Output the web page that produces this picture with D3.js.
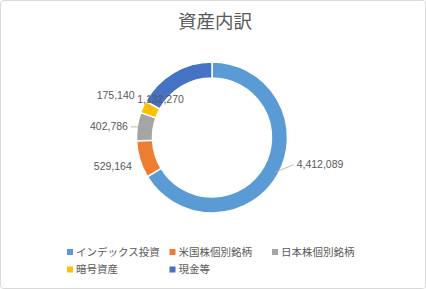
<!DOCTYPE html>
<html>
<head>
<meta charset="utf-8">
<script src="https://cdn.jsdelivr.net/npm/d3@7"></script>
<style>
  html, body { margin: 0; padding: 0; background: #fff; }
  svg { display: block; }
</style>
</head>
<body>
<div id="chart"></div>
<script>
const title = '資産内訳'
const categories = ['インデックス投資', '米国株個別銘柄', '日本株個別銘柄', '暗号資産', '現金等']
const values = [4412089, 529164, 402786, 175140, 1132270]
const colors = ['#5b9bd5', '#ed7d31', '#a5a5a5', '#ffc000', '#4472c4']

let width = 426
let height = 289
let cx = 212
let cy = 137.5
let outerR = 75.5
let innerR = 59.5
let textColor = '#595959'
let jpFont = '"Noto Sans CJK JP", "Noto Sans", sans-serif'
let numFont = '"Liberation Sans", Arial, sans-serif'

let svg = d3.select('#chart').append('svg')
  .attr('width', width)
  .attr('height', height)

svg.append('rect')
  .attr('x', 0.5)
  .attr('y', 0.5)
  .attr('width', width - 1)
  .attr('height', height - 1)
  .attr('rx', 3)
  .attr('fill', '#fff')
  .attr('stroke', '#d9d9d9')

svg.append('text')
  .attr('x', width / 2 + 2)
  .attr('y', 28)
  .attr('text-anchor', 'middle')
  .attr('font-family', jpFont)
  .attr('font-size', 18.5)
  .attr('fill', textColor)
  .text(title)

let data = categories.map((c, i) => ({ name: c, value: values[i], color: colors[i] }))

let pie = d3.pie()
  .value((d) => d.value)
  .sort(null)

let arcs = pie(data)

let arc = d3.arc()
  .innerRadius(innerR)
  .outerRadius(outerR)

let g = svg.append('g')
  .attr('transform', `translate(${cx},${cy})`)

g.selectAll('.slice')
  .data(arcs)
  .enter().append('path')
  .attr('class', 'slice')
  .attr('d', arc)
  .attr('fill', (d) => d.data.color)
  .attr('stroke', '#fff')
  .attr('stroke-width', 1.5)

// label layout: start at mid-angle just outside the ring, then nudge like Excel's best fit
let labelR = 88
let nudge = {
  'インデックス投資': [8, -16, true],
  '米国株個別銘柄': [4, 3, false],
  '日本株個別銘柄': [3, 2, true],
  '暗号資産': [3, -6, false],
  '現金等': [-30, 38, false, 'start']
}
let fmt = d3.format(',')

let labels = arcs.map((d) => {
  let a = (d.startAngle + d.endAngle) / 2
  let x = Math.sin(a) * labelR
  let y = -Math.cos(a) * labelR
  let n = nudge[d.data.name] || [0, 0, false]
  let anchor = n[3] || (x >= 0 ? 'start' : 'end')
  let edge = [Math.sin(a) * (outerR - 4), -Math.cos(a) * (outerR - 4)]
  return { d, x: x + n[0], y: y + n[1], anchor, leader: n[2], edge }
})

g.selectAll('.leader')
  .data(labels.filter((l) => l.leader))
  .enter().append('line')
  .attr('class', 'leader')
  .attr('x1', (l) => l.edge[0])
  .attr('y1', (l) => l.edge[1])
  .attr('x2', (l) => l.anchor === 'start' ? l.x - 3 : l.x + 3)
  .attr('y2', (l) => l.y)
  .attr('stroke', '#a6a6a6')
  .attr('stroke-width', 0.75)

// small stub from the cash label down to the ring, as Excel drew it
let cash = labels[labels.length - 1]
g.append('line')
  .attr('x1', cash.x + 12)
  .attr('y1', cash.y + 5)
  .attr('x2', cash.x + 14)
  .attr('y2', cash.y + 11)
  .attr('stroke', '#a6a6a6')
  .attr('stroke-width', 0.75)

g.selectAll('.label')
  .data(labels)
  .enter().append('text')
  .attr('class', 'label')
  .attr('x', (l) => l.x)
  .attr('y', (l) => l.y)
  .attr('dy', '0.35em')
  .attr('text-anchor', (l) => l.anchor)
  .attr('font-family', numFont)
  .attr('font-size', 10.5)
  .attr('fill', textColor)
  .text((l) => fmt(l.d.data.value))

// legend: fixed columns, three per row
let colW = 102.5
let rowH = 17.5
let legend = svg.append('g')
  .attr('transform', 'translate(67,252)')

let item = legend.selectAll('.item')
  .data(data)
  .enter().append('g')
  .attr('class', 'item')
  .attr('transform', (d, i) => `translate(${(i % 3) * colW},${Math.floor(i / 3) * rowH})`)

item.append('rect')
  .attr('x', 0)
  .attr('y', -3)
  .attr('width', 6)
  .attr('height', 6)
  .attr('fill', (d) => d.color)

item.append('text')
  .attr('x', 9)
  .attr('y', 0)
  .attr('dy', '0.36em')
  .attr('font-family', jpFont)
  .attr('font-size', 10.5)
  .attr('fill', textColor)
  .text((d) => d.name)
</script>
</body>
</html>
